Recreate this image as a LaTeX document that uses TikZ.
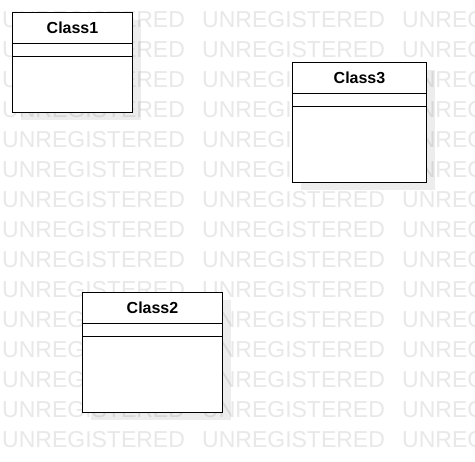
\documentclass[tikz,border=0pt]{standalone}
\usepackage{fontspec}
\setmainfont{Liberation Sans}
\usetikzlibrary{shadows}
\definecolor{wmgray}{RGB}{232,232,232}
\begin{document}
\begin{tikzpicture}[x=1pt,y=-1pt,
  wm/.style={text=wmgray, font=\fontsize{23}{23}\selectfont, anchor=base west, inner sep=0pt},
  classbox/.style={draw=black, fill=white, line width=1pt, inner sep=0pt, anchor=north west,
    drop shadow={shadow xshift=8pt, shadow yshift=-8pt, opacity=0.07, fill=black}},
  classtitle/.style={font=\bfseries\fontsize{16}{16}\selectfont, anchor=north, inner sep=0pt, minimum height=31pt},
  classcomp/.style={anchor=north, inner sep=0pt, minimum height=12.7pt},
  classline/.style={draw=black, line width=1pt}
]
\useasboundingbox (0,0) rectangle (475,462);
\fill[white] (0,0) rectangle (475,462);
% watermark
\foreach \r in {0,...,14}{
  \foreach \c in {0,1,2}{
    \node[wm] (w\r-\c) at (2+200*\c, 28+30*\r) {UNREGISTERED};
  }
}
% Class1
\node[classbox, minimum width=120pt, minimum height=100pt] (c1) at (12,12) {};
\node[classtitle] (t1) at (c1.north) {Class1};
\node[classcomp] (a1) at (t1.south) {};
\draw[classline] (c1.west |- t1.south) -- (c1.east |- t1.south);
\draw[classline] (c1.west |- a1.south) -- (c1.east |- a1.south);
% Class3
\node[classbox, minimum width=134pt, minimum height=120pt] (c3) at (292,62) {};
\node[classtitle] (t3) at (c3.north) {Class3};
\node[classcomp] (a3) at (t3.south) {};
\draw[classline] (c3.west |- t3.south) -- (c3.east |- t3.south);
\draw[classline] (c3.west |- a3.south) -- (c3.east |- a3.south);
% Class2
\node[classbox, minimum width=140pt, minimum height=120pt] (c2) at (82,292) {};
\node[classtitle] (t2) at (c2.north) {Class2};
\node[classcomp] (a2) at (t2.south) {};
\draw[classline] (c2.west |- t2.south) -- (c2.east |- t2.south);
\draw[classline] (c2.west |- a2.south) -- (c2.east |- a2.south);
\end{tikzpicture}
\end{document}
